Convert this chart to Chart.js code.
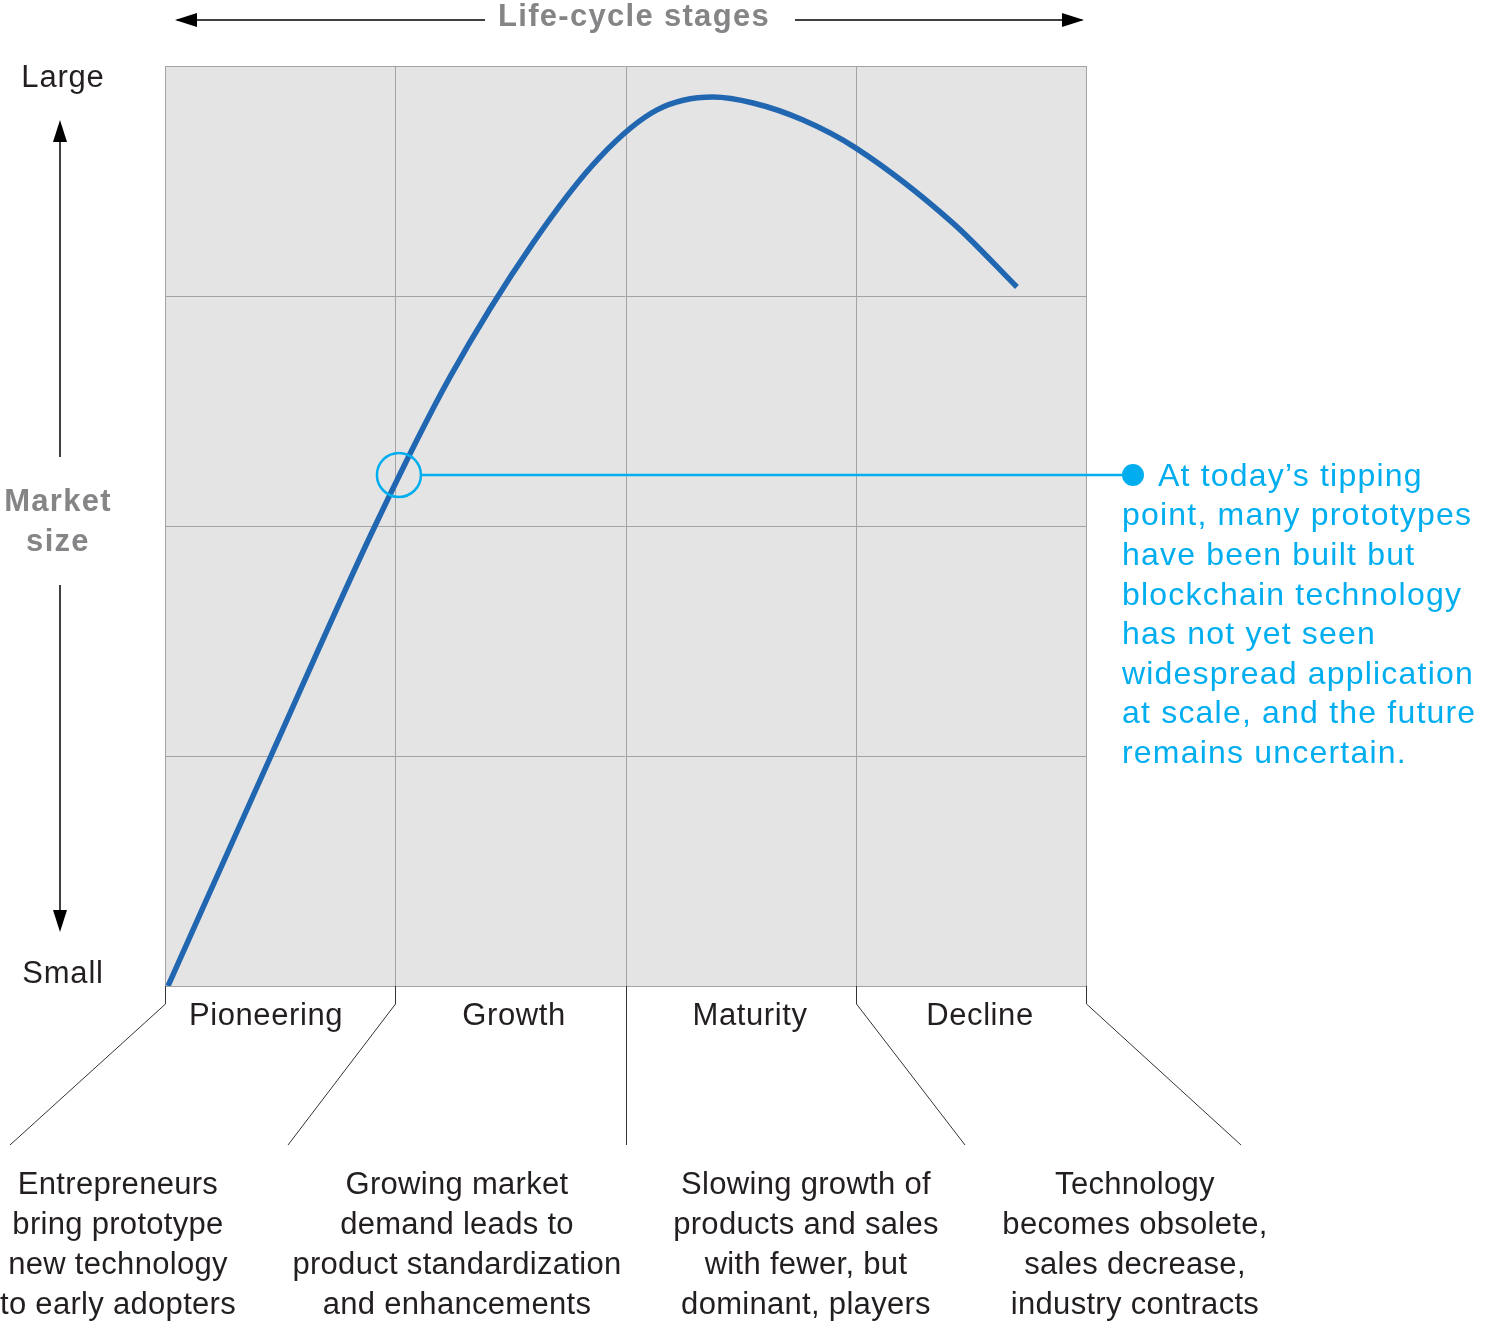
<!DOCTYPE html>
<html>
<head>
<meta charset="utf-8">
<script src="https://cdn.jsdelivr.net/npm/chart.js@4"></script>
<style>
  html, body { margin: 0; padding: 0; background: #fff; }
  #wrap { width: 1486px; height: 1328px; }
</style>
</head>
<body>
<div id="wrap"><canvas id="lifeCycle" width="1486" height="1328"></canvas></div>
<script>
// market size curve over the four life-cycle stages (x: stage units 0-4, y: size units 0-4)
const curveX = [0.013, 0.46, 0.912, 1.238, 1.598, 1.889, 2.137, 2.38, 2.554, 2.771, 3.001, 3.422, 3.7];
const curveY = [0, 1.0, 2.0, 2.648, 3.23, 3.604, 3.809, 3.865, 3.839, 3.765, 3.643, 3.317, 3.039];

const stages = ['Pioneering', 'Growth', 'Maturity', 'Decline'];
const stageNotes = [
    ['Entrepreneurs', 'bring prototype', 'new technology', 'to early adopters'],
    ['Growing market', 'demand leads to', 'product standardization', 'and enhancements'],
    ['Slowing growth of', 'products and sales', 'with fewer, but', 'dominant, players'],
    ['Technology', 'becomes obsolete,', 'sales decrease,', 'industry contracts']
];

// tipping point marker (on the curve) and where its callout ends
const tipX = 1.016, tipY = 2.222, tipEndX = 4.204;
const tipNote = [
    'At today\u2019s tipping',
    'point, many prototypes',
    'have been built but',
    'blockchain technology',
    'has not yet seen',
    'widespread application',
    'at scale, and the future',
    'remains uncertain.'
];

const BLUE = '#2166b0';
const CYAN = '#00aeef';
const GREY_TXT = '#858587';
const INK = '#231f20';
const FONT = '"Liberation Sans", Arial, Helvetica, sans-serif';

function arrowHead(ctx, x, y, dir) {
    const L = 22, W = 7;
    ctx.beginPath();
    if (dir === 'l') { ctx.moveTo(x, y); ctx.lineTo(x + L, y - W); ctx.lineTo(x + L, y + W); }
    if (dir === 'r') { ctx.moveTo(x, y); ctx.lineTo(x - L, y - W); ctx.lineTo(x - L, y + W); }
    if (dir === 'u') { ctx.moveTo(x, y); ctx.lineTo(x - W, y + L); ctx.lineTo(x + W, y + L); }
    if (dir === 'd') { ctx.moveTo(x, y); ctx.lineTo(x - W, y - L); ctx.lineTo(x + W, y - L); }
    ctx.closePath();
    ctx.fill();
}

// background + grid behind the curve
const gridPlugin = {
    id: 'gridBg',
    beforeDatasetsDraw(chart) {
        const { ctx, chartArea: a, scales: { x, y } } = chart;
        ctx.save();
        ctx.fillStyle = '#e4e4e4';
        ctx.fillRect(a.left, a.top, a.right - a.left, a.bottom - a.top);
        ctx.strokeStyle = '#a3a3a3';
        ctx.lineWidth = 1;
        for (let i = 0; i <= 4; i++) {
            const px = Math.round(x.getPixelForValue(i)) + 0.5;
            ctx.beginPath(); ctx.moveTo(px, a.top); ctx.lineTo(px, a.bottom); ctx.stroke();
            const py = Math.round(y.getPixelForValue(i)) + 0.5;
            ctx.beginPath(); ctx.moveTo(a.left, py); ctx.lineTo(a.right, py); ctx.stroke();
        }
        ctx.restore();
    }
};

// everything around the plot: arrows, labels, stage notes, tipping callout
const decorPlugin = {
    id: 'decor',
    afterDatasetsDraw(chart) {
        const { ctx, chartArea: a, scales: { x, y } } = chart;
        ctx.save();
        ctx.textAlign = 'center'; ctx.textBaseline = 'middle';

        // top arrow + title
        ctx.strokeStyle = '#000'; ctx.fillStyle = '#000'; ctx.lineWidth = 1.5;
        ctx.beginPath(); ctx.moveTo(a.left + 12, 20); ctx.lineTo(485, 20); ctx.stroke();
        ctx.beginPath(); ctx.moveTo(795, 20); ctx.lineTo(a.right - 4, 20); ctx.stroke();
        arrowHead(ctx, a.left + 10, 20, 'l');
        arrowHead(ctx, a.right - 2, 20, 'r');
        ctx.fillStyle = GREY_TXT;
        ctx.font = 'bold 31px ' + FONT;
        ctx.letterSpacing = '1.3px';
        ctx.fillText('Life-cycle stages', 634, 17);

        // left axis
        ctx.fillStyle = GREY_TXT;
        ctx.letterSpacing = '1.3px';
        ctx.fillText('Market', 58, 502);
        ctx.fillText('size', 58, 542);
        ctx.fillStyle = INK;
        ctx.font = '31px ' + FONT;
        ctx.letterSpacing = '0.8px';
        ctx.fillText('Large', 63, 78);
        ctx.fillText('Small', 63, 974);
        ctx.strokeStyle = '#000'; ctx.fillStyle = '#000';
        ctx.beginPath(); ctx.moveTo(60, 140); ctx.lineTo(60, 457); ctx.stroke();
        ctx.beginPath(); ctx.moveTo(60, 585); ctx.lineTo(60, 912); ctx.stroke();
        arrowHead(ctx, 60, 120, 'u');
        arrowHead(ctx, 60, 932, 'd');

        // stage ticks and connector lines
        const ends = [10, 288, 626, 965, 1241];
        ctx.strokeStyle = '#333'; ctx.lineWidth = 1;
        for (let i = 0; i <= 4; i++) {
            const px = Math.round(x.getPixelForValue(i)) + 0.5;
            ctx.beginPath();
            ctx.moveTo(px, a.bottom);
            if (i === 2) {
                ctx.lineTo(px, 1145);
            } else {
                ctx.lineTo(px, a.bottom + 18);
                ctx.lineTo(ends[i], 1145);
            }
            ctx.stroke();
        }

        // stage names
        ctx.fillStyle = INK;
        ctx.font = '31px ' + FONT;
        ctx.letterSpacing = '0.6px';
        const nameX = [266, 514, 750, 980];
        stages.forEach((s, i) => ctx.fillText(s, nameX[i], 1016));

        // stage notes
        ctx.letterSpacing = '0.3px';
        const noteX = [118, 457, 806, 1135];
        stageNotes.forEach((lines, i) => {
            lines.forEach((t, j) => ctx.fillText(t, noteX[i], 1185 + j * 40));
        });

        // tipping point callout
        const cx = x.getPixelForValue(tipX), cy = y.getPixelForValue(tipY);
        const ex = x.getPixelForValue(tipEndX);
        ctx.strokeStyle = CYAN; ctx.fillStyle = CYAN; ctx.lineWidth = 2.5;
        ctx.beginPath(); ctx.arc(cx, cy, 22, 0, Math.PI * 2); ctx.stroke();
        ctx.beginPath(); ctx.moveTo(cx + 23, cy); ctx.lineTo(ex, cy); ctx.stroke();
        ctx.beginPath(); ctx.arc(ex, cy, 11, 0, Math.PI * 2); ctx.fill();
        ctx.font = '32px ' + FONT;
        ctx.letterSpacing = '1.2px';
        ctx.textAlign = 'left';
        tipNote.forEach((t, j) => {
            ctx.fillText(t, j === 0 ? 1158 : 1122, 477 + j * 39.6);
        });

        ctx.restore();
    }
};

new Chart(document.getElementById('lifeCycle'), {
    type: 'line',
    data: {
        datasets: [{
            data: curveX.map((v, i) => ({ x: v, y: curveY[i] })),
            borderColor: BLUE,
            borderWidth: 5.5,
            pointRadius: 0,
            cubicInterpolationMode: 'monotone',
            fill: false
        }]
    },
    options: {
        responsive: false,
        animation: false,
        devicePixelRatio: 1,
        layout: { padding: { left: 165, top: 66, right: 400, bottom: 342 } },
        plugins: { legend: { display: false }, tooltip: { enabled: false } },
        scales: {
            x: { type: 'linear', min: 0, max: 4, display: false },
            y: { type: 'linear', min: 0, max: 4, display: false }
        }
    },
    plugins: [gridPlugin, decorPlugin]
});
</script>
</body>
</html>
